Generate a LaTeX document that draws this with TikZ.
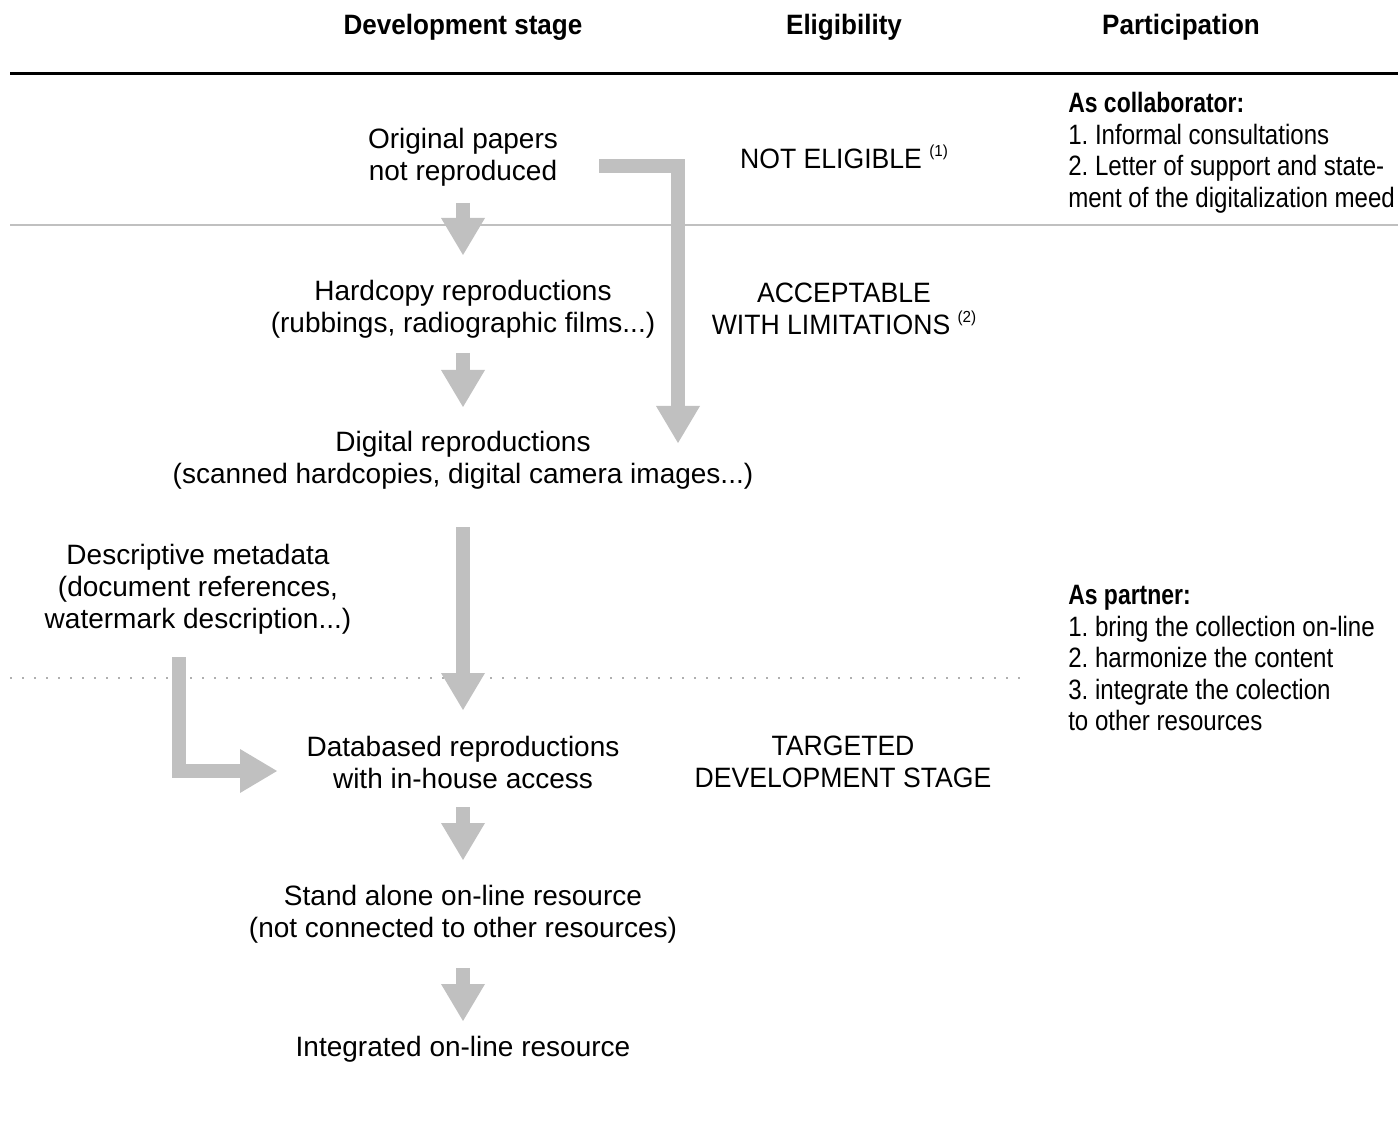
\documentclass[tikz,border=0pt]{standalone}
\usepackage{fontspec}
\setmainfont{Liberation Sans}
\newfontfamily\condfont[FakeStretch=0.86]{Liberation Sans}
\newfontfamily\condbold[FakeStretch=0.82]{Liberation Sans Bold}
\newfontfamily\headfont[FakeStretch=0.93]{Liberation Sans Bold}
\newfontfamily\capsfont[FakeStretch=0.95]{Liberation Sans}
\usetikzlibrary{arrows.meta}
\definecolor{arrowgray}{HTML}{C0C0C0}
\definecolor{dotgray}{HTML}{AFAFAF}
\newcommand{\supnote}[1]{\ \raisebox{0.45em}{\fontsize{12}{12}\selectfont(#1)}}
\frenchspacing
\begin{document}
\begin{tikzpicture}[x=0.75pt,y=-0.75pt,
  txt/.style={align=center, font=\fontsize{21}{24}\selectfont, inner sep=0pt, text=black},
  elig/.style={align=center, font=\capsfont\fontsize{21}{24}\selectfont, inner sep=0pt, text=black},
  colhead/.style={font=\headfont\fontsize{21}{24}\selectfont, inner sep=0pt},
  part/.style={align=left, anchor=north west, font=\condfont\fontsize{21}{23.7}\selectfont, inner sep=0pt},
  flow/.style={draw=arrowgray, line width=10pt, line join=miter,
    -{Triangle[width=33pt,length=27.75pt,line width=0pt]}},
]
\useasboundingbox (0,0) rectangle (1398,1126);

% column headers
\node[colhead] (hdev) at (463,27) {Development stage};
\node[colhead] (helig) at (844,27) {Eligibility};
\node[colhead] (hpart) at (1181,27) {Participation};

% rules
\draw[line width=2.25pt] (10,73.5) -- (1398,73.5);
\draw[arrowgray, line width=1.9pt] (10,225) -- (1398,225);
\draw[dotgray, line width=1.5pt, dash pattern=on 1.5pt off 7.5pt] (10,678) -- (1030,678);

% development stages
\node[txt] (orig) at (463,157) {Original papers\\not reproduced};
\node[txt] (hard) at (463,309) {Hardcopy reproductions\\(rubbings, radiographic films...)};
\node[txt] (digi) at (463,460) {Digital reproductions\\(scanned hardcopies, digital camera images...)};
\node[txt] (meta) at (198,589) {Descriptive metadata\\(document references,\\watermark description...)};
\node[txt] (dbase) at (463,762) {Databased reproductions\\with in-house access};
\node[txt] (stand) at (463,914) {Stand alone on-line resource\\(not connected to other resources)};
\node[txt] (integ) at (463,1049) {Integrated on-line resource};

% eligibility
\node[elig] (notel) at (844,157) {NOT ELIGIBLE\supnote{1}};
\node[elig] (accept) at (844,309) {ACCEPTABLE\\WITH LIMITATIONS\supnote{2}};
\node[elig] (target) at (843,762) {TARGETED\\DEVELOPMENT STAGE};

% participation
\node[part] (collab) at (1068,92) {{\condbold As collaborator:}\\1. Informal consultations\\2. Letter of support and state-\\ment of the digitalization meed};
\node[part] (partner) at (1068,585) {{\condbold As partner:}\\1. bring the collection on-line\\2. harmonize the content\\3. integrate the colection\\to other resources};

% arrow end points
\coordinate (a1s) at (463,203); \coordinate (a1e) at (463,255);
\coordinate (a2s) at (463,353); \coordinate (a2e) at (463,407);
\coordinate (bs) at (599,166);  \coordinate (be) at (678,443);
\coordinate (ls) at (463,527);  \coordinate (le) at (463,710);
\coordinate (ms) at (179,657);  \coordinate (me) at (277,771);
\coordinate (a3s) at (463,807); \coordinate (a3e) at (463,860);
\coordinate (a4s) at (463,968); \coordinate (a4e) at (463,1021);

\draw[flow] (a1s) -- (a1e);
\draw[flow] (a2s) -- (a2e);
\draw[flow] (bs) -| (be);
\draw[flow] (ls) -- (le);
\draw[flow] (ms) |- (me);
\draw[flow] (a3s) -- (a3e);
\draw[flow] (a4s) -- (a4e);
\end{tikzpicture}
\end{document}
